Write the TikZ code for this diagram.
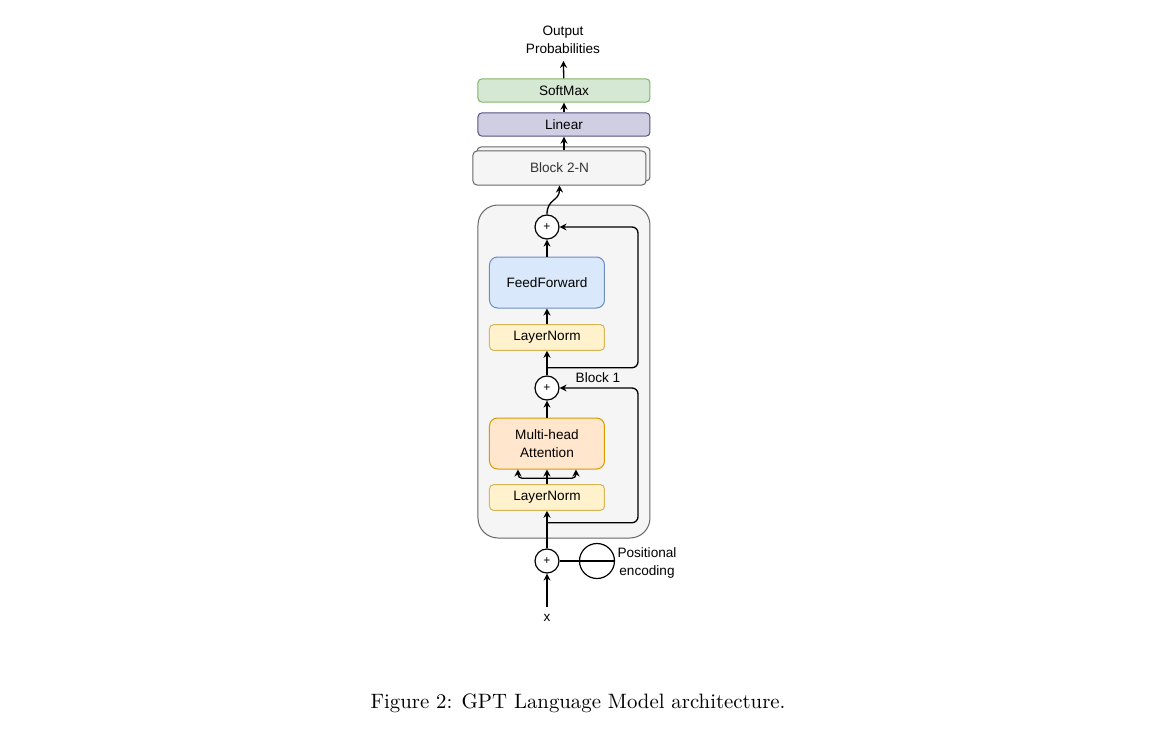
\documentclass[tikz,border=0pt]{standalone}
\usepackage{fontspec}
\usepackage{tikz}
\usetikzlibrary{positioning, shapes.geometric, arrows.meta, shadows}
\newfontfamily\diagfont{Liberation Sans}
\definecolor{grayfill}{HTML}{F5F5F5}
\definecolor{grayedge}{HTML}{666666}
\definecolor{graytext}{HTML}{333333}
\definecolor{lnfill}{HTML}{FFF2CC}
\definecolor{lnedge}{HTML}{D6B656}
\definecolor{attfill}{HTML}{FFE6CC}
\definecolor{attedge}{HTML}{D79B00}
\definecolor{fffill}{HTML}{DAE8FC}
\definecolor{ffedge}{HTML}{6C8EBF}
\definecolor{linfill}{HTML}{D0CEE2}
\definecolor{linedge}{HTML}{56517E}
\definecolor{smfill}{HTML}{D5E8D4}
\definecolor{smedge}{HTML}{82B366}
\tikzstyle{txt} = [font=\diagfont\fontsize{6.8}{9}\selectfont, align=center]
\tikzstyle{layernorm} = [rectangle, rounded corners=2pt, minimum width=57.5pt, minimum height=11.5pt, text centered, draw=lnedge, fill=lnfill, line width=0.5pt, txt]
\tikzstyle{attention} = [rectangle, rounded corners=4pt, minimum width=57.5pt, minimum height=25.5pt, text centered, draw=attedge, fill=attfill, line width=0.5pt, txt]
\tikzstyle{feedfwd} = [rectangle, rounded corners=4pt, minimum width=57.5pt, minimum height=25.5pt, text centered, draw=ffedge, fill=fffill, line width=0.5pt, txt]
\tikzstyle{linear} = [rectangle, rounded corners=2pt, minimum width=86pt, minimum height=11.5pt, text centered, draw=linedge, fill=linfill, line width=0.5pt, txt]
\tikzstyle{softmax} = [rectangle, rounded corners=2pt, minimum width=86pt, minimum height=11.5pt, text centered, draw=smedge, fill=smfill, line width=0.5pt, txt]
\tikzstyle{stack} = [rectangle, rounded corners=2pt, minimum width=86.5pt, minimum height=17pt, text centered, draw=grayedge, fill=grayfill, text=graytext, line width=0.5pt, txt, copy shadow={shadow xshift=2pt, shadow yshift=2pt, fill=grayfill, draw=grayedge}]
\tikzstyle{container} = [rectangle, rounded corners=10pt, minimum width=86pt, minimum height=166.5pt, draw=grayedge, fill=grayfill, line width=0.5pt]
\tikzstyle{adder} = [circle, minimum size=12pt, inner sep=0pt, draw=black, fill=white, line width=0.6pt, font=\diagfont\fontsize{6}{6}\selectfont]
\tikzstyle{arrow} = [line width=0.65pt, ->, >={Stealth[length=3.5pt, width=3.5pt]}]

\begin{document}
\begin{tikzpicture}[node distance=25pt]
\node (x) [txt] {x};
\useasboundingbox (-273.5pt,-58.5pt) rectangle (303pt,309pt);

\node (block1) [container, above of=x, yshift=98.25pt, xshift=8.5pt] {};

\node (plus0) [adder, above of=x, yshift=3.5pt] {+};
\node (posenc) [circle, minimum size=17.5pt, inner sep=0pt, draw=black, fill=white, line width=0.6pt, right of=plus0] {};
\node (pelabel) [txt, right of=posenc, yshift=-1pt] {Positional\\encoding};

\node (ln1) [layernorm, above of=plus0, yshift=6.75pt] {LayerNorm};
\node (mha) [attention, above of=ln1, yshift=2pt] {Multi-head\\Attention};
\node (plus1) [adder, above of=mha, yshift=2.75pt] {+};
\node (b1label) [txt, right of=plus1, xshift=0.5pt, yshift=5pt] {Block 1};
\node (ln2) [layernorm, above of=plus1, yshift=0.25pt] {LayerNorm};
\node (ff) [feedfwd, above of=ln2, yshift=2.5pt] {FeedForward};
\node (plus2) [adder, above of=ff, yshift=2.75pt] {+};

\node (block2n) [stack, above of=plus2, yshift=4.5pt, xshift=6.25pt] {Block 2-N};
\node (linear) [linear, above of=block2n, yshift=-3.25pt, xshift=2.25pt] {Linear};
\node (softmax) [softmax, above of=linear, yshift=-8pt] {SoftMax};
\node (output) [txt, above of=softmax, yshift=0.25pt, xshift=-0.5pt] {Output\\Probabilities};

\node (caption) [below of=x, yshift=-17.5pt, xshift=15.5pt, font=\fontsize{10.4}{12}\selectfont] {Figure 2: GPT Language Model architecture.};

% input and positional encoding
\draw [arrow] (x) -- (plus0);
\draw [line width=0.6pt] (plus0.east) -- (posenc.east);
\draw [arrow] (plus0) -- (ln1);

% attention half
\coordinate (res1) at ([yshift=-6pt]ln1.south);
\coordinate (side1) at ([xshift=45.5pt]res1);
\draw [arrow, rounded corners=3pt] (res1) -- (side1) |- (plus1);
\draw [arrow] (ln1) -- (mha);
\draw [arrow, rounded corners=2pt] ([yshift=3pt]ln1.north) -| ([xshift=-14.5pt]mha.south);
\draw [arrow, rounded corners=2pt] ([yshift=3pt]ln1.north) -| ([xshift=14.5pt]mha.south);
\draw [arrow] (mha) -- (plus1);

% feedforward half
\draw [arrow] (plus1) -- (ln2);
\coordinate (res2) at ([yshift=-8.5pt]ln2.south);
\coordinate (side2) at ([xshift=45.5pt]res2);
\draw [arrow, rounded corners=3pt] (res2) -- (side2) |- (plus2);
\draw [arrow] (ln2) -- (ff);
\draw [arrow] (ff) -- (plus2);

% head
\draw [arrow] (plus2.north) .. controls +(0,8pt) and +(0,-8pt) .. (block2n.south);
\draw [arrow] (block2n.north -| linear.south) -- (linear.south);
\draw [arrow] (linear) -- (softmax);
\draw [arrow] (softmax) -- (output);

\end{tikzpicture}
\end{document}
